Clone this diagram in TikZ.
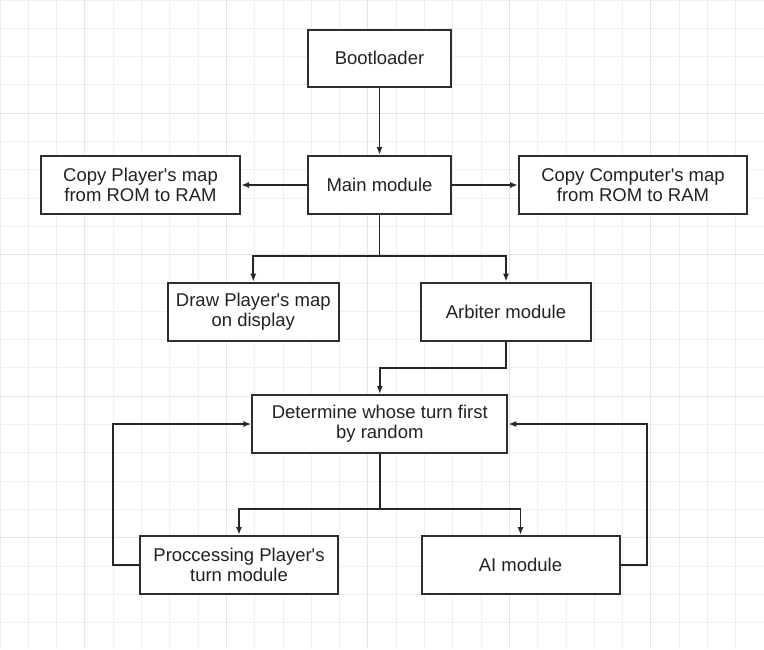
\documentclass[tikz,border=0pt]{standalone}
\usepackage{fontspec}
\setmainfont{Liberation Sans}
\usetikzlibrary{arrows.meta}
\definecolor{boxline}{HTML}{2E2E2E}
\definecolor{gridmin}{HTML}{EFEFEF}
\definecolor{gridmaj}{HTML}{E6E6E6}
\definecolor{txt}{HTML}{222222}
\newcommand{\ap}{\textquotesingle}
\begin{document}
\begin{tikzpicture}[
        x=1pt, y=-1pt,
        font=\fontsize{18.5}{20}\selectfont
    ]
    \tikzset{
        blk/.style = {rectangle, draw=boxline, line width=2pt, fill=white,
            align=center, text=txt, inner sep=0pt},
        conn/.style = {line width=1.8pt, black!85},
        arr/.style = {conn, -{Latex[length=8pt,width=6pt]}},
        gmin/.style = {gridmin, line width=1pt},
        gmaj/.style = {gridmaj, line width=1pt},
    }
    \useasboundingbox[fill=white] (0,0) rectangle (764,649);
    % background grid
    \foreach \i in {0,...,27} \draw[gmin] (\i*28.3,0) -- (\i*28.3,649);
    \foreach \j in {0,...,22} \draw[gmin] (0,\j*28.3) -- (764,\j*28.3);
    \foreach \i in {3,8,13,18,23} \draw[gmaj] (\i*28.3,0) -- (\i*28.3,649);
    \foreach \j in {4,9,14,19} \draw[gmaj] (0,\j*28.3) -- (764,\j*28.3);
    %
    \node[blk, minimum width=143, minimum height=57] at (379.5,58) (boot) {Bootloader};
    \node[blk, minimum width=143, minimum height=58] at (379.5,185) (main) {Main module};
    \node[blk, minimum width=199, minimum height=58] at (140.5,185) (cpp) {Copy Player\ap s map\\from ROM to RAM};
    \node[blk, minimum width=228, minimum height=58] at (633,185) (cpc) {Copy Computer\ap s map\\from ROM to RAM};
    \node[blk, minimum width=171, minimum height=58] at (253.3,311.7) (drw) {Draw Player\ap s map\\on display};
    \node[blk, minimum width=170, minimum height=58] at (506,311.7) (arb) {Arbiter module};
    \node[blk, minimum width=255, minimum height=58] at (379.8,424) (det) {Determine whose turn first\\by random};
    \node[blk, minimum width=198, minimum height=58] at (239,565) (proc) {Proccessing Player\ap s\\turn module};
    \node[blk, minimum width=198, minimum height=58] at (520.5,565) (ai) {AI module};
    %
    \coordinate (br1) at (379.5,256);
    \coordinate (ja) at (506,368.3);
    \coordinate (br2) at (379.8,509.3);
    \coordinate (lp) at (112.7,565);
    \coordinate (rp) at (646.7,565);
    %
    \draw[arr] (boot) -- (main);
    \draw[arr] (main) -- (cpp);
    \draw[arr] (main) -- (cpc);
    %
    \draw[conn] (main) -- (br1);
    \draw[arr] (br1) -| (drw);
    \draw[arr] (br1) -| (arb);
    \draw[arr] (arb) -- (ja) -| (det);
    %
    \draw[conn] (det) -- (br2);
    \draw[arr] (br2) -| (proc);
    \draw[arr] (br2) -| (ai);
    \draw[arr] (proc) -- (lp) |- (det);
    \draw[arr] (ai) -- (rp) |- (det);
\end{tikzpicture}
\end{document}
